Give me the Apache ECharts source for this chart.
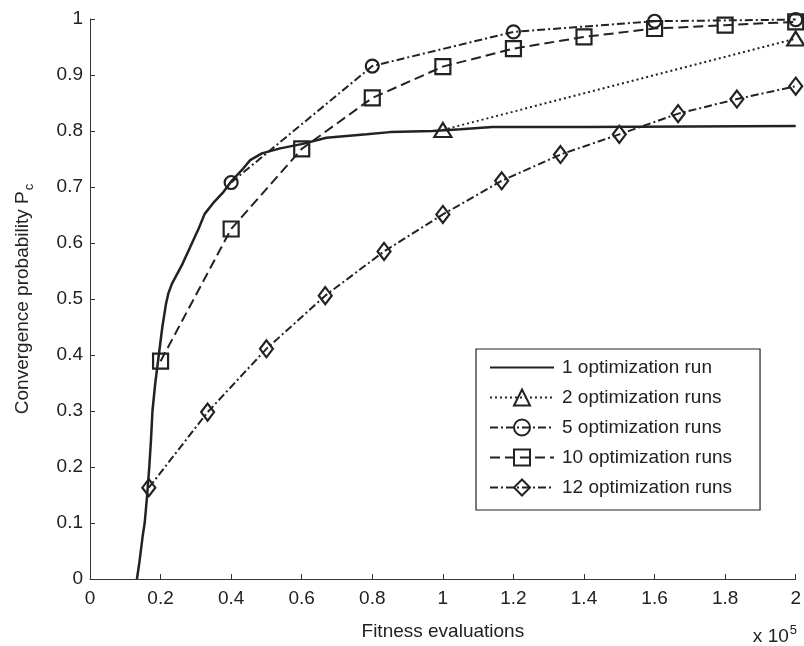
<!DOCTYPE html>
<html>
<head>
<meta charset="utf-8">
<script src="https://cdn.jsdelivr.net/npm/echarts@6/dist/echarts.min.js"></script>
<style>
  html, body { margin: 0; padding: 0; background: #fff; }
  #chart { width: 804px; height: 646px; }
</style>
</head>
<body>
<div id="chart"></div>
<script>
// series names
var names = ['1 optimization run', '2 optimization runs', '5 optimization runs',
             '10 optimization runs', '12 optimization runs'];

// 1 run: dense curve [fitness evals (x1e5), probability]
var run1 = [[0.133, 0], [0.14, 0.03], [0.15, 0.08], [0.155, 0.1], [0.162, 0.15],
  [0.168, 0.2], [0.173, 0.25], [0.177, 0.3], [0.185, 0.35], [0.195, 0.4],
  [0.205, 0.45], [0.215, 0.49], [0.222, 0.51], [0.232, 0.527], [0.26, 0.56],
  [0.284, 0.593], [0.308, 0.626], [0.325, 0.652], [0.35, 0.672], [0.378, 0.691],
  [0.399, 0.709], [0.43, 0.73], [0.454, 0.748], [0.487, 0.76], [0.539, 0.769],
  [0.603, 0.777], [0.67, 0.788], [0.784, 0.794], [0.85, 0.798], [0.971, 0.8],
  [1.05, 0.803], [1.14, 0.807], [1.4, 0.807], [1.7, 0.808], [2.0, 0.809]];
var run2 = [[1.0, 0.802], [2.0, 0.965]];
var run5 = [[0.4, 0.708], [0.8, 0.916], [1.2, 0.977], [1.6, 0.996], [2.0, 0.999]];
var run10 = [[0.2, 0.389], [0.4, 0.625], [0.6, 0.768], [0.8, 0.859], [1.0, 0.915],
  [1.2, 0.947], [1.4, 0.968], [1.6, 0.983], [1.8, 0.989], [2.0, 0.995]];
var run12 = [[0.1667, 0.163], [0.3333, 0.298], [0.5, 0.411], [0.6667, 0.506],
  [0.8333, 0.585], [1.0, 0.651], [1.1667, 0.711], [1.3333, 0.758], [1.5, 0.794],
  [1.6667, 0.831], [1.8333, 0.857], [2.0, 0.88]];

var ink = '#222';
var font = 'Liberation Sans, Arial, Helvetica, sans-serif';

function mk(name, data, symbol, size, dash, width) {
  var hidden = symbol === 'none';
  return {
    name: name,
    type: 'line',
    data: data,
    symbol: hidden ? 'circle' : symbol,
    symbolSize: size,
    showSymbol: !hidden,
    clip: false,
    animation: false,
    itemStyle: { color: 'rgba(0,0,0,0)', borderColor: hidden ? 'rgba(0,0,0,0)' : ink,
                 borderWidth: hidden ? 0 : 2.2 },
    lineStyle: { color: ink, width: width, type: dash },
    emphasis: { disabled: true }
  };
}

var chart = echarts.init(document.getElementById('chart'));
chart.setOption({
  backgroundColor: '#fff',
  textStyle: { fontFamily: font, color: ink },
  grid: { left: 90, right: 7, top: 19, bottom: 67 },
  xAxis: {
    type: 'value', min: 0, max: 2, interval: 0.2,
    name: 'Fitness evaluations', nameLocation: 'middle', nameGap: 43,
    nameTextStyle: { fontSize: 19, color: ink, fontFamily: font },
    axisLine: { lineStyle: { color: '#333', width: 1 } },
    axisTick: { inside: true, length: 5, lineStyle: { color: '#333' } },
    axisLabel: { fontSize: 19, color: ink, margin: 10, fontFamily: font, showMaxLabel: true },
    splitLine: { show: false }
  },
  yAxis: {
    type: 'value', min: 0, max: 1, interval: 0.1,
    name: '{a|Convergence probability P}{b|c}', nameLocation: 'middle', nameGap: 54,
    nameTextStyle: {
      color: ink, fontFamily: font,
      rich: {
        a: { fontSize: 19, fontFamily: font, color: ink },
        b: { fontSize: 13, fontFamily: font, color: ink, padding: [14, 0, 0, 1] }
      }
    },
    axisLine: { show: true, lineStyle: { color: '#333', width: 1 } },
    axisTick: { show: true, inside: true, length: 5, lineStyle: { color: '#333' } },
    axisLabel: { fontSize: 19, color: ink, margin: 7, fontFamily: font },
    splitLine: { show: false }
  },
  legend: {
    orient: 'vertical', left: 476, top: 349,
    backgroundColor: '#fff', borderColor: '#222', borderWidth: 1.2, borderRadius: 0,
    padding: [9, 28, 13, 13],
    itemWidth: 64, itemHeight: 20, itemGap: 11,
    textStyle: { fontSize: 19, color: ink, fontFamily: font, padding: [0, 0, 0, 3] },
    data: names
  },
  graphic: [{
    type: 'text', right: 7, top: 624,
    style: {
      text: '{a|x 10}{b|5}', fill: ink,
      rich: {
        a: { fontSize: 19, fontFamily: font, fill: ink },
        b: { fontSize: 13, fontFamily: font, fill: ink, padding: [0, 0, 12, 1] }
      }
    }
  }],
  series: [
    mk(names[0], run1, 'none', 0, 'solid', 2.5),
    mk(names[1], run2, 'triangle', [17, 14], [2, 3], 2),
    mk(names[2], run5, 'circle', 13, [8, 3, 2, 3], 2),
    mk(names[3], run10, 'rect', 15, [10, 5], 2),
    mk(names[4], run12, 'diamond', [13, 17], [8, 3, 2, 3], 2)
  ]
});
</script>
</body>
</html>
